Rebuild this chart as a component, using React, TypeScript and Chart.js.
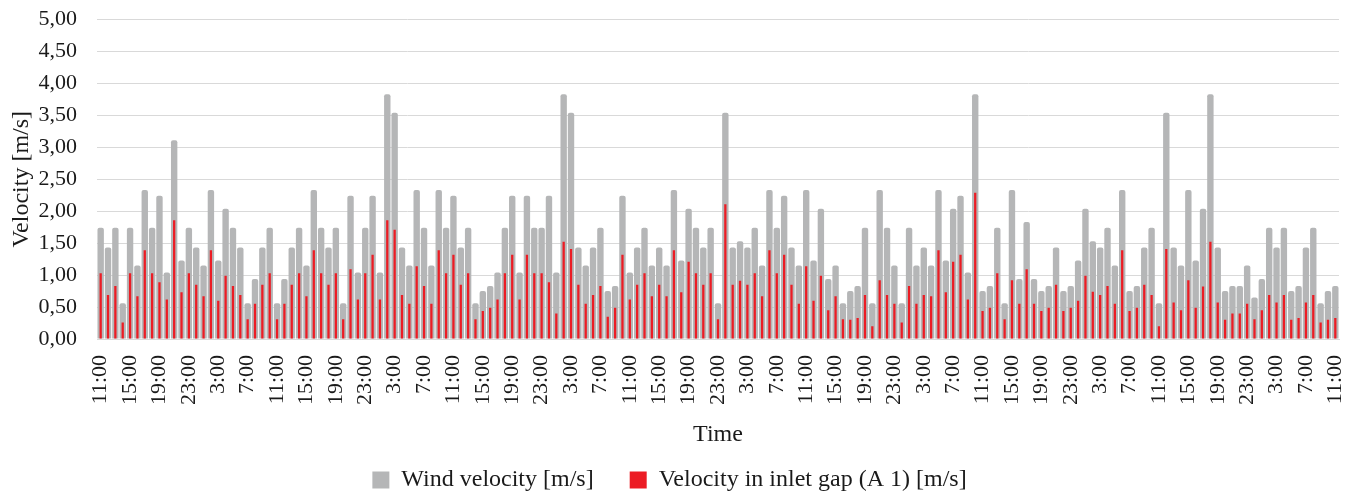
import React, { useEffect, useRef } from "react";
import { Chart, registerables } from "chart.js";

Chart.register(...registerables);

// Hourly categories, 11:00 on day 1 to 11:00 seven days later
const START_HOUR = 11;
const HOUR_COUNT = 169;
const categories: string[] = Array.from(
  { length: HOUR_COUNT },
  (_, i) => `${(START_HOUR + i) % 24}:00`
);
const LABEL_EVERY = 4;

const yTicks = [0, 0.5, 1, 1.5, 2, 2.5, 3, 3.5, 4, 4.5, 5];

const windVelocity = [
  1.74, 1.43, 1.74, 0.56, 1.74, 1.15, 2.33, 1.74, 2.24, 1.04,
  3.11, 1.23, 1.74, 1.43, 1.15, 2.33, 1.23, 2.04, 1.74, 1.43,
  0.56, 0.94, 1.43, 1.74, 0.56, 0.94, 1.43, 1.74, 1.15, 2.33,
  1.74, 1.43, 1.74, 0.56, 2.24, 1.04, 1.74, 2.24, 1.04, 3.83,
  3.54, 1.43, 1.15, 2.33, 1.74, 1.15, 2.33, 1.74, 2.24, 1.43,
  1.74, 0.56, 0.75, 0.83, 1.04, 1.74, 2.24, 1.04, 2.24, 1.74,
  1.74, 2.24, 1.04, 3.83, 3.54, 1.43, 1.15, 1.43, 1.74, 0.75,
  0.83, 2.24, 1.04, 1.43, 1.74, 1.15, 1.43, 1.15, 2.33, 1.23,
  2.04, 1.74, 1.43, 1.74, 0.56, 3.54, 1.43, 1.53, 1.43, 1.74,
  1.15, 2.33, 1.74, 2.24, 1.43, 1.15, 2.33, 1.23, 2.04, 0.94,
  1.15, 0.56, 0.75, 0.83, 1.74, 0.56, 2.33, 1.74, 1.15, 0.56,
  1.74, 1.15, 1.43, 1.15, 2.33, 1.23, 2.04, 2.24, 1.04, 3.83,
  0.75, 0.83, 1.74, 0.56, 2.33, 0.94, 1.83, 0.94, 0.75, 0.83,
  1.43, 0.75, 0.83, 1.23, 2.04, 1.53, 1.43, 1.74, 1.15, 2.33,
  0.75, 0.83, 1.43, 1.74, 0.56, 3.54, 1.43, 1.15, 2.33, 1.23,
  2.04, 3.83, 1.43, 0.75, 0.83, 0.83, 1.15, 0.65, 0.94, 1.74,
  1.43, 1.74, 0.75, 0.83, 1.43, 1.74, 0.56, 0.75, 0.83,
];

const inletVelocity = [
  1.03, 0.69, 0.83, 0.26, 1.03, 0.67, 1.39, 1.03, 0.89, 0.62,
  1.86, 0.73, 1.03, 0.85, 0.67, 1.39, 0.6, 0.99, 0.83, 0.69,
  0.31, 0.55, 0.85, 1.03, 0.31, 0.55, 0.85, 1.03, 0.67, 1.39,
  1.03, 0.85, 1.03, 0.31, 1.09, 0.62, 1.03, 1.32, 0.62, 1.86,
  1.71, 0.69, 0.55, 1.14, 0.83, 0.55, 1.39, 1.03, 1.32, 0.85,
  1.03, 0.31, 0.44, 0.49, 0.62, 1.03, 1.32, 0.62, 1.32, 1.03,
  1.03, 0.89, 0.4, 1.52, 1.41, 0.85, 0.55, 0.69, 0.83, 0.35,
  0.49, 1.32, 0.62, 0.85, 1.03, 0.67, 0.85, 0.67, 1.39, 0.73,
  1.21, 1.03, 0.85, 1.03, 0.31, 2.11, 0.85, 0.91, 0.85, 1.03,
  0.67, 1.39, 1.03, 1.32, 0.85, 0.55, 1.14, 0.6, 0.99, 0.45,
  0.67, 0.31, 0.3, 0.33, 0.69, 0.2, 0.92, 0.69, 0.55, 0.26,
  0.83, 0.55, 0.69, 0.67, 1.39, 0.73, 1.21, 1.32, 0.62, 2.29,
  0.44, 0.49, 1.03, 0.31, 0.92, 0.55, 1.09, 0.55, 0.44, 0.49,
  0.85, 0.44, 0.49, 0.6, 0.99, 0.74, 0.69, 0.83, 0.55, 1.39,
  0.44, 0.49, 0.85, 0.69, 0.2, 1.41, 0.57, 0.45, 0.92, 0.49,
  0.82, 1.52, 0.57, 0.3, 0.4, 0.4, 0.55, 0.31, 0.45, 0.69,
  0.57, 0.69, 0.3, 0.33, 0.57, 0.69, 0.26, 0.3, 0.33,
];

const FONT = '"Liberation Serif", "Times New Roman", serif';
const TEXT = "#1a1a1a";

export default function App() {
  const canvasRef = useRef<HTMLCanvasElement | null>(null);

  useEffect(() => {
    document.body.style.margin = "0";
    const canvas = canvasRef.current;
    if (!canvas) return;
    const chart = new Chart(canvas, {
      type: "bar",
      data: {
        labels: categories,
        datasets: [
          {
            label: "Wind velocity [m/s]",
            data: windVelocity,
            backgroundColor: "#b5b6b7",
            grouped: false,
            categoryPercentage: 1,
            barPercentage: 0.87,
            borderRadius: { topLeft: 2, topRight: 2, bottomLeft: 0, bottomRight: 0 },
            borderSkipped: false,
            order: 1,
          } as any,
          {
            label: "Velocity in inlet gap (A 1) [m/s]",
            data: inletVelocity,
            backgroundColor: "#ec1c24",
            grouped: false,
            categoryPercentage: 1,
            barPercentage: 0.31,
            order: 0,
          } as any,
        ],
      },
      options: {
        animation: false,
        responsive: true,
        maintainAspectRatio: false,
        layout: { padding: { top: 19.5, right: 15, left: 0, bottom: 0 } },
        scales: {
          x: {
            grid: { display: false, drawTicks: false },
            border: { display: true, color: "#d9d9d9" },
            ticks: {
              autoSkip: false,
              minRotation: 90,
              maxRotation: 90,
              padding: 16,
              color: TEXT,
              font: { family: FONT, size: 22 },
              callback: (_v: any, i: number) =>
                i % LABEL_EVERY === 0 ? categories[i] : "",
            },
            title: {
              display: true,
              text: "Time",
              color: TEXT,
              font: { family: FONT, size: 24 },
              padding: { top: 0, bottom: -17.5 },
            },
            afterFit: (s: any) => {
              s.height = 93;
              s.paddingLeft = 0;
              s.paddingRight = 0;
            },
          },
          y: {
            min: 0,
            max: 5,
            afterBuildTicks: (s: any) => {
              s.ticks = yTicks.map((v) => ({ value: v }));
            },
            ticks: {
              padding: 20,
              color: TEXT,
              font: { family: FONT, size: 22 },
              callback: (v: any) => Number(v).toFixed(2).replace(".", ","),
            },
            grid: { color: "#d9d9d9", drawTicks: false, lineWidth: 1 },
            border: { display: false },
            title: {
              display: true,
              text: "Velocity [m/s]",
              color: TEXT,
              font: { family: FONT, size: 24 },
              padding: { top: 7, bottom: 0 },
            },
            afterFit: (s: any) => {
              s.width = 97;
              s.paddingTop = 0;
              s.paddingBottom = 0;
            },
          },
        },
        plugins: {
          legend: {
            position: "bottom",
            maxHeight: 65,
            labels: {
              boxWidth: 17,
              boxHeight: 17,
              padding: 36,
              color: TEXT,
              font: { family: FONT, size: 24 },
              sort: (a: any, b: any) => a.datasetIndex - b.datasetIndex,
            },
          },
          tooltip: { enabled: false },
        },
      },
    });
    return () => chart.destroy();
  }, []);

  return (
    <div style={{ width: 1354, height: 497, position: "relative" }}>
      <canvas ref={canvasRef} />
    </div>
  );
}
